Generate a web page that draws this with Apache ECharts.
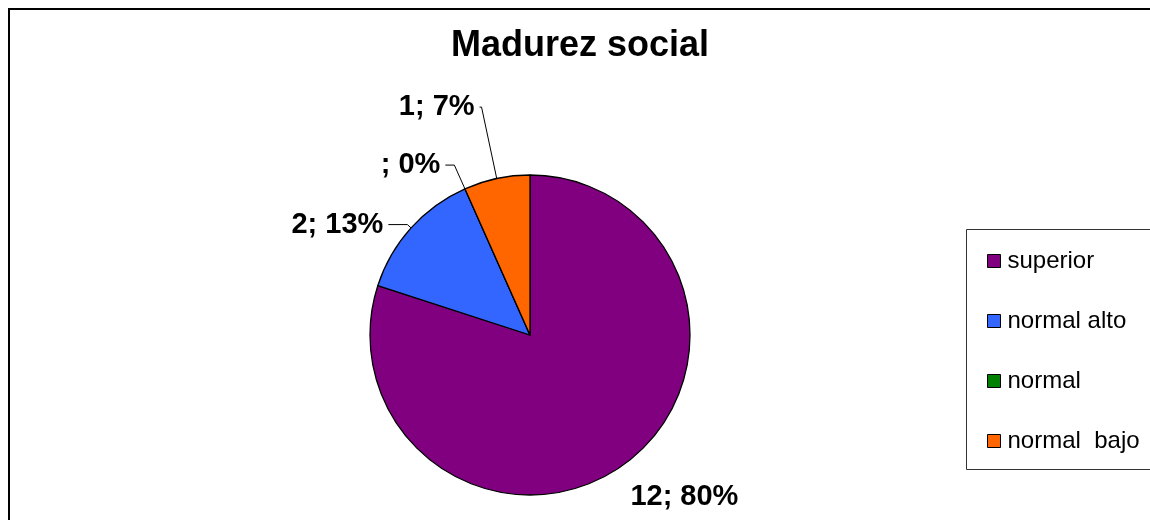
<!DOCTYPE html>
<html>
<head>
<meta charset="utf-8">
<script src="https://cdn.jsdelivr.net/npm/echarts@6/dist/echarts.min.js"></script>
<style>
  html, body { margin: 0; padding: 0; background: #fff; }
  #chart { width: 1150px; height: 520px; }
</style>
</head>
<body>
<div id="chart"></div>
<script>
const categories = ['superior', 'normal alto', 'normal', 'normal  bajo']
const counts = [12, 2, 0, 1]
const sliceColors = ['#800080', '#3366FF', '#008000', '#FF6600']

// leader line lengths per slice [radial, horizontal]
const leaderLens = [[38, 0], [5, 19], [26, 9], [73, 2]]

const font = 'Arial, "Liberation Sans", sans-serif'

const chart = echarts.init(document.getElementById('chart'))

const pieData = categories.map((name, idx) => ({
  name,
  value: counts[idx],
  itemStyle: { color: sliceColors[idx] },
  labelLine: {
    show: idx !== 0,
    length: leaderLens[idx][0],
    length2: leaderLens[idx][1],
  },
}))

chart.setOption({
  animation: false,
  title: {
    text: 'Madurez social',
    left: 451,
    top: 28,
    padding: 0,
    textStyle: { fontFamily: font, fontSize: 36, fontWeight: 'bold', color: '#000' },
  },
  legend: {
    orient: 'vertical',
    left: 987,
    top: 249,
    padding: 0,
    itemGap: 36,
    itemWidth: 13,
    itemHeight: 13,
    icon: 'rect',
    selectedMode: false,
    itemStyle: { borderColor: '#000', borderWidth: 1 },
    textStyle: { fontFamily: font, fontSize: 24, lineHeight: 24, color: '#000', padding: [0, 0, 0, 2] },
    data: categories,
  },
  graphic: [
    {
      type: 'rect',
      shape: { x: 9, y: 9, width: 1200, height: 600 },
      style: { fill: 'none', stroke: '#000', lineWidth: 2 },
    },
    {
      type: 'rect',
      shape: { x: 966.5, y: 229.5, width: 300, height: 240 },
      style: { fill: 'none', stroke: '#333', lineWidth: 1 },
    },
  ],
  series: [
    {
      type: 'pie',
      center: [530, 335],
      radius: 160,
      startAngle: 90,
      clockwise: true,
      avoidLabelOverlap: false,
      percentPrecision: 0,
      itemStyle: { borderColor: '#000', borderWidth: 1.3 },
      label: {
        show: true,
        position: 'outside',
        fontFamily: font,
        fontSize: 29,
        fontWeight: 'bold',
        color: '#000',
        distanceToLabelLine: 5,
        formatter: (p) => (p.value === 0 ? '' : p.value) + '; ' + p.percent + '%',
      },
      labelLine: { lineStyle: { color: '#000', width: 1 } },
      labelLayout: (params) => (params.dataIndex === 0 ? { dx: -21, dy: 2 } : {}),
      emphasis: { disabled: true },
      data: pieData,
    },
  ],
})
</script>
</body>
</html>
